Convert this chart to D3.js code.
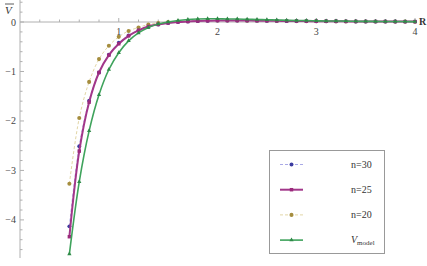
<!DOCTYPE html>
<html>
<head>
<meta charset="utf-8">
<script src="https://cdn.jsdelivr.net/npm/d3@7"></script>
<style>
body { margin: 0; background: #fff; }
text { font-family: "Liberation Serif", "DejaVu Serif", serif; }
</style>
</head>
<body>
<script>
// R values 0.5 .. 4.0 step 0.1
var rValues = [0.5,0.6,0.7,0.8,0.9,1.0,1.1,1.2,1.3,1.4,1.5,1.6,1.7,1.8,1.9,2.0,2.1,2.2,2.3,2.4,2.5,2.6,2.7,2.8,2.9,3.0,3.1,3.2,3.3,3.4,3.5,3.6,3.7,3.8,3.9,4.0];

var n30 = [-4.13,-2.51,-1.59,-1.02,-0.66,-0.42,-0.27,-0.17,-0.10,-0.05,-0.02,0.0,0.01,0.02,0.025,0.03,0.03,0.03,0.03,0.028,0.026,0.024,0.022,0.02,0.018,0.017,0.015,0.014,0.013,0.012,0.011,0.01,0.01,0.009,0.008,0.008];
var n25 = [-4.34,-2.61,-1.62,-1.02,-0.67,-0.44,-0.28,-0.17,-0.09,-0.05,-0.02,0.0,0.01,0.02,0.025,0.03,0.03,0.03,0.03,0.028,0.026,0.024,0.022,0.02,0.018,0.017,0.015,0.014,0.013,0.012,0.011,0.01,0.01,0.009,0.008,0.008];
var n20 = [-3.27,-1.94,-1.21,-0.75,-0.48,-0.30,-0.18,-0.11,-0.05,-0.02,0.0,0.01,0.02,0.025,0.03,0.03,0.03,0.03,0.028,0.026,0.024,0.022,0.02,0.018,0.017,0.015,0.014,0.013,0.012,0.011,0.01,0.01,0.009,0.008,0.008,0.007];
var vModel = [-4.69,-3.23,-2.20,-1.47,-0.96,-0.62,-0.38,-0.22,-0.11,-0.04,0.0,0.03,0.05,0.06,0.065,0.065,0.06,0.06,0.055,0.05,0.045,0.04,0.035,0.03,0.03,0.025,0.02,0.02,0.018,0.015,0.013,0.012,0.01,0.01,0.009,0.008];

var seriesNames = ["n=30", "n=25", "n=20", "model"];
var xTickLabels = [1, 2, 3, 4];
var yTickLabels = [0, -1, -2, -3, -4];

var svg = d3.select("body").append("svg")
  .attr("width", 427)
  .attr("height", 266);

var x = d3.scaleLinear().domain([0, 4]).range([20, 415]);
var y = d3.scaleLinear().domain([-4.77, 0.445]).range([258, 0]);

var axisColor = "#b0b0b0";
var labelColor = "#444";

// x axis
var xAxis = svg.append("g");
xAxis.append("line")
  .attr("x1", x(0)).attr("x2", x(4))
  .attr("y1", y(0)).attr("y2", y(0))
  .attr("stroke", axisColor);
xAxis.selectAll("line.minor")
  .data(d3.range(1, 21).map(function(i) { return i * 0.2; }))
  .enter().append("line")
  .attr("class", "minor")
  .attr("x1", function(d) { return x(d); })
  .attr("x2", function(d) { return x(d); })
  .attr("y1", y(0))
  .attr("y2", function(d) { return Math.abs(d - Math.round(d)) < 1e-6 ? y(0) - 4 : y(0) - 2.5; })
  .attr("stroke", axisColor);
xAxis.selectAll("text")
  .data(xTickLabels)
  .enter().append("text")
  .attr("x", function(d) { return x(d); })
  .attr("y", y(0) + 13)
  .attr("text-anchor", "middle")
  .attr("font-size", 10)
  .attr("fill", labelColor)
  .text(function(d) { return d; });
svg.append("text")
  .attr("x", 419).attr("y", y(0) + 3)
  .attr("font-size", 10)
  .attr("font-weight", "bold")
  .attr("fill", "#333")
  .text("R");

// y axis
var yAxis = svg.append("g");
yAxis.append("line")
  .attr("x1", x(0)).attr("x2", x(0))
  .attr("y1", 0).attr("y2", 258)
  .attr("stroke", axisColor);
yAxis.selectAll("line.minor")
  .data(d3.range(-23, 3).map(function(i) { return i * 0.2; }))
  .enter().append("line")
  .attr("class", "minor")
  .attr("y1", function(d) { return y(d); })
  .attr("y2", function(d) { return y(d); })
  .attr("x1", x(0))
  .attr("x2", function(d) { return Math.abs(d - Math.round(d)) < 1e-6 ? x(0) + 4 : x(0) + 2.5; })
  .attr("stroke", axisColor);
yAxis.selectAll("text")
  .data(yTickLabels)
  .enter().append("text")
  .attr("x", x(0) - 4)
  .attr("y", function(d) { return y(d) + 3.5; })
  .attr("text-anchor", "end")
  .attr("font-size", 10)
  .attr("fill", labelColor)
  .text(function(d) { return d < 0 ? "\u2212" + (-d) : d; });
svg.append("text")
  .attr("x", 5).attr("y", 14)
  .attr("font-size", 11)
  .attr("font-style", "italic")
  .attr("fill", "#333")
  .text("V");
svg.append("line")
  .attr("x1", 5).attr("x2", 14)
  .attr("y1", 4).attr("y2", 4)
  .attr("stroke", "#333").attr("stroke-width", 0.8);

// series
var styles = {
  "n=20": { line: "#e2d6a6", width: 1, dash: "3,2", marker: "#a58d3e", shape: d3.symbolCircle, size: 13 },
  "n=30": { line: "#a9a9e6", width: 1, dash: "3,2", marker: "#3c3ca0", shape: d3.symbolCircle, size: 12 },
  "n=25": { line: "#a2378a", width: 2, dash: null, marker: "#9c2a7c", shape: d3.symbolSquare, size: 12 },
  "model": { line: "#3fa35c", width: 1.6, dash: null, marker: "#2f8a48", shape: d3.symbolTriangle, size: 8 }
};
var seriesData = { "n=30": n30, "n=25": n25, "n=20": n20, "model": vModel };
var drawOrder = ["n=20", "n=30", "n=25", "model"];

var line = d3.line()
  .x(function(d) { return x(d[0]); })
  .y(function(d) { return y(d[1]); })
  .curve(d3.curveCatmullRom);

drawOrder.forEach(function(name) {
  var s = styles[name];
  var pts = rValues.map(function(r, i) { return [r, seriesData[name][i]]; });
  svg.append("path")
    .datum(pts)
    .attr("d", line)
    .attr("fill", "none")
    .attr("stroke", s.line)
    .attr("stroke-width", s.width)
    .attr("stroke-dasharray", s.dash);
  svg.selectAll(null)
    .data(pts)
    .enter().append("path")
    .attr("transform", function(d) { return "translate(" + x(d[0]) + "," + y(d[1]) + ")"; })
    .attr("d", d3.symbol().type(s.shape).size(s.size))
    .attr("fill", s.marker);
});

// legend
var legend = svg.append("g");
legend.append("rect")
  .attr("x", 269.5).attr("y", 150.5)
  .attr("width", 115).attr("height", 103)
  .attr("fill", "#fff")
  .attr("stroke", "#999");
seriesNames.forEach(function(name, i) {
  var s = styles[name];
  var ly = 164.5 + i * 25.2;
  legend.append("line")
    .attr("x1", 280).attr("x2", 303)
    .attr("y1", ly).attr("y2", ly)
    .attr("stroke", s.line)
    .attr("stroke-width", s.width)
    .attr("stroke-dasharray", s.dash);
  legend.append("path")
    .attr("transform", "translate(291.5," + ly + ")")
    .attr("d", d3.symbol().type(s.shape).size(s.size))
    .attr("fill", s.marker);
  if (name === "model") {
    var t = legend.append("text")
      .attr("x", 351).attr("y", ly + 3)
      .attr("font-size", 10)
      .attr("fill", "#333");
    t.append("tspan").attr("font-style", "italic").text("V");
    t.append("tspan").attr("font-size", 7).attr("dy", 2).text("model");
  } else {
    legend.append("text")
      .attr("x", 351).attr("y", ly + 3.5)
      .attr("font-size", 10)
      .attr("fill", "#333")
      .text(name);
  }
});
</script>
</body>
</html>
